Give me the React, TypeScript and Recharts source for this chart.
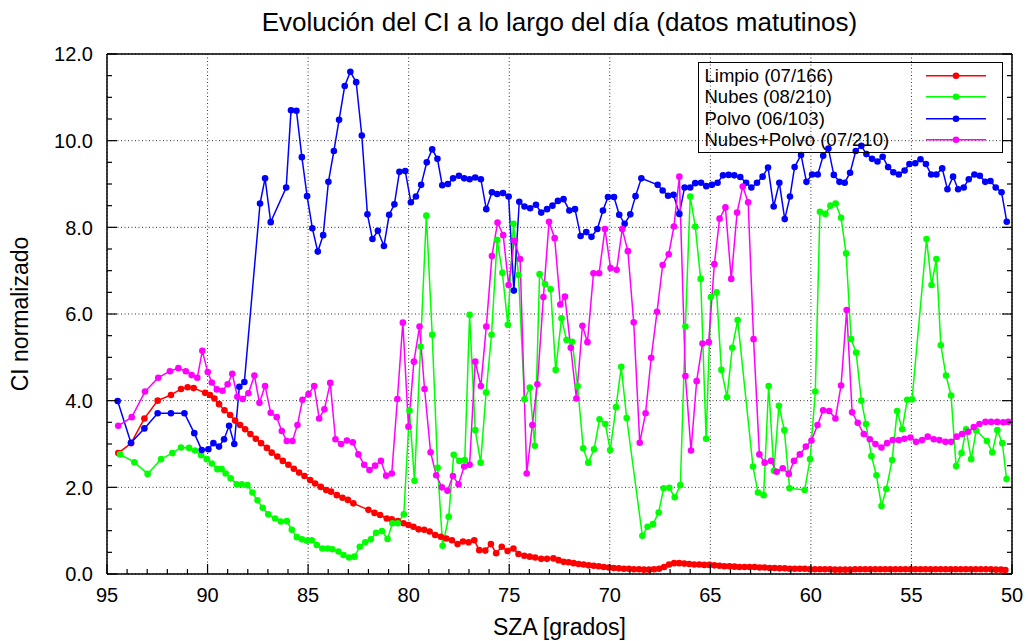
import { LineChart, Line, XAxis, YAxis, CartesianGrid, Legend } from "recharts"

const FONT = "'Liberation Sans', Arial, Helvetica, sans-serif"

type Pt = [number, number]

// SZA (grados) , CI normalizado
const limpio: Pt[] = [
  [94.44, 2.79], [93.8, 3.02], [93.14, 3.59], [92.48, 4.0], [91.82, 4.13], [91.32, 4.27], [90.99, 4.31], [90.69, 4.29],
  [90.12, 4.18], [89.88, 4.13], [89.66, 4.05], [89.43, 3.92], [89.16, 3.78], [88.88, 3.67], [88.63, 3.54], [88.38, 3.44],
  [88.13, 3.34], [87.87, 3.23], [87.6, 3.12], [87.34, 3.02], [87.05, 2.91], [86.81, 2.8], [86.53, 2.71], [86.26, 2.61],
  [85.98, 2.52], [85.71, 2.43], [85.45, 2.34], [85.18, 2.26], [84.9, 2.17], [84.65, 2.09], [84.37, 2.01], [84.1, 1.94],
  [83.86, 1.9], [83.57, 1.82], [83.29, 1.76], [83.02, 1.71], [82.75, 1.63], [82.0, 1.48], [81.7, 1.41], [81.42, 1.36],
  [81.09, 1.28], [80.84, 1.26], [80.54, 1.22], [80.26, 1.17], [80.01, 1.13], [79.76, 1.09], [79.51, 1.03], [79.23, 1.02],
  [78.96, 0.98], [78.68, 0.9], [78.4, 0.86], [78.13, 0.82], [77.85, 0.78], [77.57, 0.69], [77.3, 0.75], [77.02, 0.73],
  [76.74, 0.78], [76.49, 0.55], [76.19, 0.54], [75.91, 0.69], [75.65, 0.48], [75.37, 0.63], [75.08, 0.53], [74.79, 0.59],
  [74.54, 0.46], [74.25, 0.42], [73.98, 0.4], [73.71, 0.38], [73.41, 0.35], [73.12, 0.35], [72.8, 0.36], [72.55, 0.32],
  [72.3, 0.28], [72.05, 0.27], [71.8, 0.25], [71.55, 0.23], [71.3, 0.22], [71.05, 0.2], [70.8, 0.19], [70.55, 0.18],
  [70.3, 0.16], [70.05, 0.15], [69.8, 0.14], [69.55, 0.13], [69.3, 0.12], [69.05, 0.12], [68.8, 0.11], [68.55, 0.11],
  [68.3, 0.1], [68.05, 0.1], [67.8, 0.11], [67.55, 0.12], [67.3, 0.16], [67.05, 0.22], [66.8, 0.25], [66.55, 0.25],
  [66.3, 0.24], [66.05, 0.23], [65.8, 0.22], [65.55, 0.22], [65.3, 0.21], [65.05, 0.21], [64.8, 0.2], [64.55, 0.19],
  [64.3, 0.18], [64.05, 0.18], [63.8, 0.17], [63.55, 0.16], [63.3, 0.16], [63.05, 0.16], [62.8, 0.16], [62.55, 0.15],
  [62.3, 0.15], [62.05, 0.14], [61.8, 0.14], [61.55, 0.13], [61.3, 0.13], [61.05, 0.12], [60.8, 0.12], [60.55, 0.12],
  [60.3, 0.12], [60.05, 0.11], [59.8, 0.11], [59.55, 0.11], [59.3, 0.11], [59.05, 0.11], [58.8, 0.1], [58.55, 0.1],
  [58.3, 0.1], [58.05, 0.1], [57.8, 0.11], [57.55, 0.11], [57.3, 0.11], [57.05, 0.11], [56.8, 0.11], [56.55, 0.11],
  [56.3, 0.11], [56.05, 0.11], [55.8, 0.11], [55.55, 0.11], [55.3, 0.11], [55.05, 0.11], [54.8, 0.11], [54.55, 0.11],
  [54.3, 0.11], [54.05, 0.11], [53.8, 0.11], [53.55, 0.11], [53.3, 0.11], [53.05, 0.11], [52.8, 0.11], [52.55, 0.11],
  [52.3, 0.11], [52.05, 0.11], [51.8, 0.11], [51.55, 0.11], [51.3, 0.11], [51.05, 0.11], [50.8, 0.1], [50.55, 0.1],
  [50.33, 0.09],
]

const nubes: Pt[] = [
  [94.35, 2.76], [93.64, 2.58], [92.98, 2.31], [92.31, 2.65], [91.75, 2.79], [91.32, 2.92], [90.92, 2.91], [90.62, 2.85],
  [90.32, 2.74], [90.04, 2.65], [89.79, 2.55], [89.51, 2.42], [89.3, 2.42], [89.1, 2.32], [88.85, 2.21], [88.55, 2.07],
  [88.3, 2.07], [88.02, 2.05], [87.77, 1.88], [87.52, 1.7], [87.26, 1.53], [86.98, 1.38], [86.64, 1.28], [86.36, 1.21],
  [86.06, 1.22], [85.81, 1.02], [85.56, 0.85], [85.31, 0.8], [85.06, 0.77], [84.82, 0.78], [84.57, 0.67], [84.29, 0.59],
  [84.02, 0.59], [83.79, 0.57], [83.49, 0.52], [83.24, 0.44], [82.96, 0.38], [82.7, 0.4], [82.43, 0.63], [82.16, 0.73],
  [81.88, 0.8], [81.62, 0.95], [81.33, 0.99], [81.05, 0.81], [80.81, 1.17], [80.54, 1.17], [80.24, 1.38], [79.96, 3.77],
  [79.71, 2.15], [79.41, 5.25], [79.12, 8.27], [78.83, 5.52], [78.56, 2.45], [78.31, 0.65], [78.01, 1.32], [77.76, 2.75],
  [77.48, 2.61], [77.21, 2.63], [76.97, 5.98], [76.69, 3.32], [76.42, 2.57], [76.15, 4.19], [75.88, 5.52], [75.6, 7.71],
  [75.34, 6.95], [75.07, 5.75], [74.79, 8.08], [74.54, 6.9], [74.24, 4.03], [73.98, 4.3], [73.73, 2.96], [73.49, 6.92],
  [73.22, 6.69], [72.94, 6.57], [72.69, 4.71], [72.4, 5.9], [72.15, 5.4], [71.87, 5.36], [71.6, 4.34], [71.32, 2.9],
  [71.07, 2.57], [70.78, 2.88], [70.51, 3.57], [70.22, 3.46], [69.98, 2.86], [69.69, 3.85], [69.43, 4.78], [69.16, 3.6],
  [68.38, 0.88], [68.12, 1.09], [67.85, 1.15], [67.57, 1.42], [67.32, 1.98], [67.04, 1.99], [66.77, 1.77], [66.49, 2.05],
  [66.24, 5.71], [66.0, 8.71], [65.75, 8.02], [65.48, 6.81], [65.21, 3.12], [64.97, 6.39], [64.69, 6.5], [64.45, 4.71],
  [64.17, 4.08], [63.91, 5.22], [63.64, 5.86], [62.88, 2.48], [62.63, 1.88], [62.35, 1.82], [62.1, 4.34], [61.84, 2.38],
  [61.59, 3.88], [61.32, 3.32], [61.06, 1.98], [60.31, 1.94], [60.04, 2.65], [59.78, 4.21], [59.55, 8.36], [59.28, 8.31],
  [59.03, 8.5], [58.77, 8.55], [58.5, 8.22], [58.25, 7.4], [58.0, 5.42], [57.75, 5.11], [57.49, 4.0], [57.26, 3.46],
  [56.99, 2.72], [56.74, 2.28], [56.49, 1.57], [56.25, 1.96], [55.96, 2.63], [55.71, 3.76], [55.46, 3.34], [55.21, 4.02],
  [54.97, 4.03], [54.25, 7.73], [54.0, 6.67], [53.76, 7.27], [53.54, 5.28], [53.28, 4.58], [53.03, 4.12], [52.78, 2.49],
  [52.51, 2.79], [52.28, 3.34], [52.03, 2.65], [51.78, 3.31], [51.25, 3.07], [50.98, 2.81], [50.73, 3.32], [50.48, 3.02],
  [50.27, 2.19],
]

const polvo: Pt[] = [
  [94.47, 3.99], [93.81, 3.03], [93.14, 3.36], [92.48, 3.71], [91.82, 3.71], [91.15, 3.71], [90.66, 3.25], [90.29, 2.86],
  [89.96, 2.88], [89.71, 3.02], [89.43, 2.94], [89.18, 3.11], [88.93, 3.42], [88.67, 3.0], [88.42, 4.32], [88.17, 4.43],
  [87.39, 8.55], [87.14, 9.13], [86.86, 8.12], [86.09, 8.92], [85.85, 10.7], [85.58, 10.69], [85.31, 9.62], [85.05, 8.72],
  [84.79, 7.98], [84.52, 7.44], [84.25, 7.82], [83.99, 9.05], [83.72, 9.76], [83.46, 10.48], [83.18, 11.26], [82.9, 11.59],
  [82.61, 11.35], [82.33, 10.12], [82.05, 8.3], [81.8, 7.73], [81.53, 7.92], [81.23, 7.57], [80.97, 8.29], [80.71, 8.53],
  [80.46, 9.28], [80.17, 9.3], [79.89, 8.58], [79.64, 8.71], [79.38, 8.98], [79.1, 9.5], [78.83, 9.8], [78.57, 9.58],
  [78.33, 8.97], [78.05, 9.0], [77.79, 9.13], [77.5, 9.19], [77.24, 9.13], [76.97, 9.11], [76.69, 9.15], [76.41, 9.11],
  [76.14, 8.42], [75.86, 8.81], [75.6, 8.77], [75.31, 8.79], [75.03, 8.71], [74.77, 6.54], [74.5, 8.59], [74.24, 8.48],
  [73.96, 8.44], [73.67, 8.52], [73.41, 8.34], [73.12, 8.42], [72.85, 8.5], [72.58, 8.61], [72.3, 8.65], [72.01, 8.39],
  [71.73, 8.42], [71.45, 7.8], [71.17, 7.89], [70.91, 7.78], [70.62, 7.96], [70.34, 8.39], [70.09, 8.7], [69.79, 8.7],
  [69.53, 8.29], [69.26, 8.08], [68.98, 8.3], [68.72, 8.72], [68.43, 9.13], [67.62, 8.98], [67.37, 8.85], [67.1, 8.73],
  [66.83, 8.75], [66.54, 8.31], [66.28, 8.92], [66.0, 8.92], [65.75, 9.02], [65.46, 9.03], [65.2, 8.95], [64.92, 8.98],
  [64.64, 9.03], [64.37, 9.2], [64.09, 9.21], [63.81, 9.2], [63.51, 9.16], [63.22, 9.03], [62.96, 8.92], [62.68, 9.03],
  [62.4, 9.17], [62.13, 9.38], [61.85, 8.48], [61.57, 9.03], [61.3, 8.19], [61.04, 8.71], [60.81, 9.39], [60.49, 9.67],
  [60.22, 9.05], [59.94, 9.22], [59.66, 9.22], [59.39, 9.65], [59.13, 9.82], [58.86, 9.21], [58.58, 9.05], [58.32, 9.03],
  [58.05, 9.26], [57.77, 9.76], [57.49, 9.88], [57.24, 9.69], [56.96, 9.58], [56.69, 9.52], [56.43, 9.63], [56.16, 9.39],
  [55.9, 9.27], [55.63, 9.22], [55.34, 9.31], [55.1, 9.46], [54.81, 9.48], [54.55, 9.57], [54.28, 9.46], [54.02, 9.22],
  [53.76, 9.22], [53.47, 9.36], [53.21, 8.88], [52.93, 9.17], [52.68, 8.88], [52.4, 8.92], [52.15, 9.11], [51.87, 9.22],
  [51.6, 9.19], [51.33, 9.05], [51.07, 9.07], [50.81, 8.92], [50.52, 8.81], [50.26, 8.13],
]

const nubesPolvo: Pt[] = [
  [94.44, 3.42], [93.77, 3.62], [93.11, 4.21], [92.45, 4.53], [91.87, 4.68], [91.45, 4.75], [91.08, 4.68], [90.79, 4.59],
  [90.51, 4.53], [90.26, 5.15], [89.99, 4.66], [89.79, 4.42], [89.54, 4.26], [89.26, 4.23], [89.0, 4.38], [88.77, 4.62],
  [88.52, 4.09], [88.25, 4.04], [87.97, 4.17], [87.67, 4.58], [87.42, 3.95], [87.14, 4.34], [86.86, 3.72], [86.56, 3.62],
  [86.31, 3.3], [86.06, 3.07], [85.78, 3.07], [85.53, 3.44], [85.28, 4.02], [84.98, 4.15], [84.7, 4.34], [84.45, 3.59],
  [84.19, 3.8], [83.9, 4.41], [83.64, 3.11], [83.36, 3.0], [83.07, 3.08], [82.78, 3.04], [82.5, 2.76], [82.21, 2.52],
  [81.95, 2.4], [81.67, 2.5], [81.38, 2.61], [81.12, 2.27], [80.84, 2.32], [80.56, 4.04], [80.29, 5.8], [80.01, 3.4],
  [79.74, 4.9], [79.46, 5.71], [79.21, 4.27], [78.91, 2.81], [78.63, 2.28], [78.35, 2.0], [78.07, 1.92], [77.8, 2.26],
  [77.52, 2.07], [77.24, 2.48], [76.97, 2.52], [76.69, 4.9], [76.41, 4.34], [76.14, 5.71], [75.86, 7.34], [75.58, 8.11],
  [75.3, 7.82], [75.03, 6.67], [74.75, 7.69], [74.46, 7.27], [74.13, 2.32], [73.85, 3.44], [73.6, 4.38], [73.3, 6.39],
  [73.02, 8.13], [72.74, 7.75], [72.46, 6.22], [72.23, 6.4], [71.94, 5.22], [71.66, 4.05], [71.36, 5.73], [71.11, 5.35],
  [70.81, 6.94], [70.53, 6.94], [70.24, 7.96], [69.96, 7.06], [69.66, 7.02], [69.38, 7.96], [69.1, 7.45], [68.81, 5.81],
  [68.51, 3.03], [68.22, 3.71], [67.94, 4.99], [67.65, 6.05], [67.37, 7.13], [67.07, 7.38], [66.81, 8.02], [66.54, 9.17],
  [66.24, 4.57], [65.96, 2.85], [65.68, 4.45], [65.39, 5.32], [65.08, 5.35], [64.8, 7.15], [64.54, 8.2], [64.25, 8.46],
  [63.96, 6.81], [63.67, 8.34], [63.39, 8.94], [63.12, 8.58], [62.85, 5.42], [62.56, 2.76], [62.3, 2.57], [61.98, 2.61],
  [61.7, 2.36], [61.4, 2.44], [61.1, 2.31], [60.84, 2.61], [60.55, 2.76], [60.25, 2.94], [59.97, 3.08], [59.67, 3.44],
  [59.39, 3.78], [59.09, 3.76], [58.78, 3.59], [58.5, 4.35], [58.22, 6.09], [57.95, 3.73], [57.67, 3.49], [57.37, 3.23],
  [57.07, 3.11], [56.79, 3.0], [56.49, 2.92], [56.21, 3.02], [55.93, 3.09], [55.63, 3.09], [55.35, 3.12], [55.05, 3.15],
  [54.77, 3.05], [54.47, 3.09], [54.19, 3.17], [53.89, 3.11], [53.61, 3.09], [53.31, 3.05], [53.03, 3.05], [52.75, 3.17],
  [52.48, 3.23], [52.18, 3.28], [51.9, 3.39], [51.62, 3.46], [51.32, 3.51], [51.04, 3.51], [50.74, 3.51], [50.44, 3.5],
  [50.19, 3.51],
]

const seriesNames = ["Limpio (07/166)", "Nubes (08/210)", "Polvo (06/103)", "Nubes+Polvo (07/210)"]
const seriesColors = ["#ff0000", "#00ff00", "#0000ff", "#ff00ff"]
const seriesPoints = [limpio, nubes, polvo, nubesPolvo]

const xTicks = [
  95, 94, 93, 92, 91, 90, 89, 88, 87, 86, 85, 84, 83, 82, 81, 80, 79, 78, 77, 76, 75, 74, 73,
  72, 71, 70, 69, 68, 67, 66, 65, 64, 63, 62, 61, 60, 59, 58, 57, 56, 55, 54, 53, 52, 51, 50,
]
const xMajor = [95, 90, 85, 80, 75, 70, 65, 60, 55, 50]
const yTicks = [0, 0.5, 1, 1.5, 2, 2.5, 3, 3.5, 4, 4.5, 5, 5.5, 6, 6.5, 7, 7.5, 8, 8.5, 9, 9.5, 10, 10.5, 11, 11.5, 12]
const yMajor = [0, 2, 4, 6, 8, 10, 12]

const axisStroke = { stroke: "#000", strokeWidth: 1.5 }

function BottomTick({ x, y, payload }: any) {
  const major = payload.value % 5 === 0
  return (
    <g>
      <line x1={x} y1={y} x2={x} y2={y - (major ? 10 : 5)} stroke="#000" strokeWidth={1.2} />
      {major && (
        <text x={x} y={y + 28} textAnchor="middle" fontSize={20} fontFamily={FONT} fill="#000">
          {payload.value}
        </text>
      )}
    </g>
  )
}

function TopTick({ x, y, payload }: any) {
  const major = payload.value % 5 === 0
  return <line x1={x} y1={y} x2={x} y2={y + (major ? 10 : 5)} stroke="#000" strokeWidth={1.2} />
}

function LeftTick({ x, y, payload }: any) {
  const major = payload.value % 2 === 0
  return (
    <g>
      <line x1={x} y1={y} x2={x + (major ? 10 : 5)} y2={y} stroke="#000" strokeWidth={1.2} />
      {major && (
        <text x={x - 14} y={y} dy="0.36em" textAnchor="end" fontSize={20} fontFamily={FONT} fill="#000">
          {payload.value.toFixed(1)}
        </text>
      )}
    </g>
  )
}

function RightTick({ x, y, payload }: any) {
  const major = payload.value % 2 === 0
  return <line x1={x} y1={y} x2={x - (major ? 10 : 5)} y2={y} stroke="#000" strokeWidth={1.2} />
}

function LegendBox() {
  return (
    <div
      style={{
        boxSizing: "border-box",
        width: 305,
        height: 91,
        border: "1.5px solid #000",
        paddingTop: 2,
        fontFamily: FONT,
        fontSize: 18.5,
        color: "#000",
      }}
    >
      {seriesNames.map((name, i) => (
        <div key={name} style={{ position: "relative", height: 21.3, lineHeight: "21.3px", paddingLeft: 5.5, whiteSpace: "nowrap" }}>
          {name}
          <svg style={{ position: "absolute", left: 226.5, top: 0 }} width={62} height={21}>
            <line x1={0} y1={10.7} x2={60} y2={10.7} stroke={seriesColors[i]} strokeWidth={1.5} />
            <circle cx={30} cy={10.7} r={3.3} fill={seriesColors[i]} />
          </svg>
        </div>
      ))}
    </div>
  )
}

export default function App() {
  return (
    <div style={{ position: "absolute", left: 0, top: 0, width: 1029, height: 641, background: "#fff", fontFamily: FONT }}>
      <div style={{ position: "absolute", left: 0, top: 9, width: 1119, textAlign: "center", fontSize: 26, lineHeight: "26px" }}>
        Evolución del CI a lo largo del día (datos matutinos)
      </div>
      <LineChart width={1029} height={641} margin={{ top: 53, right: 16, bottom: 27, left: 0 }}>
        <CartesianGrid
          xAxisId="x"
          yAxisId="y"
          verticalValues={xMajor}
          horizontalValues={yMajor}
          stroke="#333"
          strokeWidth={1}
          strokeDasharray="1 2.5"
        />
        <XAxis
          xAxisId="x"
          dataKey="x"
          type="number"
          domain={[50, 95]}
          reversed
          allowDataOverflow
          ticks={xTicks}
          interval={0}
          height={40}
          tickSize={0}
          tickMargin={0}
          tickLine={false}
          axisLine={axisStroke}
          tick={(p: any) => <BottomTick {...p} />}
        />
        <XAxis
          xAxisId="top"
          orientation="top"
          type="number"
          domain={[50, 95]}
          reversed
          allowDataOverflow
          ticks={xTicks}
          interval={0}
          height={1}
          tickSize={0}
          tickMargin={0}
          tickLine={false}
          axisLine={axisStroke}
          tick={(p: any) => <TopTick {...p} />}
        />
        <YAxis
          yAxisId="y"
          type="number"
          domain={[0, 12]}
          allowDataOverflow
          ticks={yTicks}
          interval={0}
          width={107}
          tickSize={0}
          tickMargin={0}
          tickLine={false}
          axisLine={axisStroke}
          tick={(p: any) => <LeftTick {...p} />}
        />
        <YAxis
          yAxisId="right"
          orientation="right"
          type="number"
          domain={[0, 12]}
          allowDataOverflow
          ticks={yTicks}
          interval={0}
          width={1}
          tickSize={0}
          tickMargin={0}
          tickLine={false}
          axisLine={axisStroke}
          tick={(p: any) => <RightTick {...p} />}
        />
        {seriesPoints.map((pts, i) => (
          <Line
            key={seriesNames[i]}
            xAxisId="x"
            yAxisId="y"
            name={seriesNames[i]}
            data={pts.map(([x, v]) => ({ x, v }))}
            dataKey="v"
            type="linear"
            stroke={seriesColors[i]}
            strokeWidth={1.5}
            dot={{ r: 3.3, fill: seriesColors[i], stroke: seriesColors[i], strokeWidth: 0 }}
            activeDot={false}
            isAnimationActive={false}
          />
        ))}
        <Legend
          layout="horizontal"
          verticalAlign="middle"
          align="center"
          wrapperStyle={{ position: "absolute", left: 698, top: 62, width: 305, height: 91 }}
          content={() => <LegendBox />}
        />
      </LineChart>
      <div
        style={{
          position: "absolute",
          left: 20,
          top: 314,
          transform: "translate(-50%, -50%) rotate(-90deg)",
          fontSize: 23,
          lineHeight: "23px",
          whiteSpace: "nowrap",
        }}
      >
        CI normalizado
      </div>
      <div style={{ position: "absolute", left: 0, top: 616, width: 1119, textAlign: "center", fontSize: 23, lineHeight: "23px" }}>
        SZA [grados]
      </div>
    </div>
  )
}
